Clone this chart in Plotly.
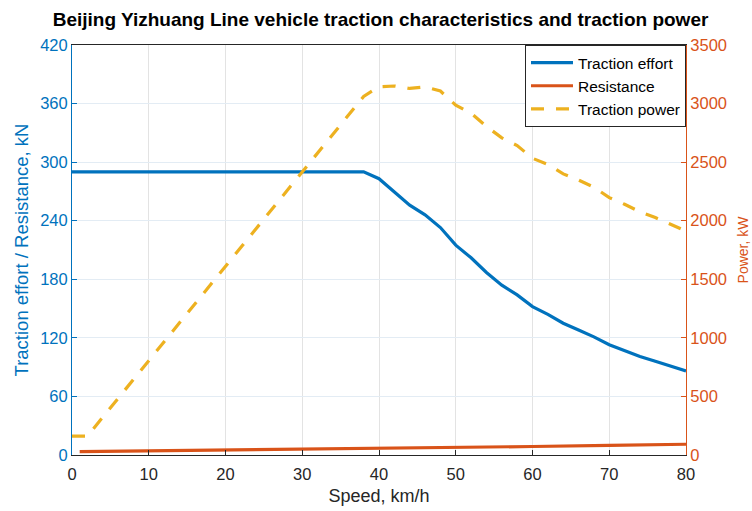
import plotly.graph_objects as go

# Speed grid (km/h) for traction effort and power
speed = list(range(0, 82, 2))

# Traction effort, kN
traction_effort = [290, 290, 290, 290, 290, 290, 290, 290, 290, 290,
                   290, 290, 290, 290, 290, 290, 290, 290, 290, 290,
                   283, 270, 256, 246, 233, 215, 202, 187, 174, 164,
                   152, 144, 135, 128, 121, 113, 107, 101, 96, 91, 86]

# Traction power, kW
traction_power = [161, 161, 322, 483, 644, 806, 967, 1128, 1289, 1450,
                  1611, 1772, 1933, 2094, 2256, 2417, 2578, 2739, 2900, 3061,
                  3144, 3150, 3129, 3143, 3107, 2986, 2918, 2805, 2707, 2642,
                  2533, 2480, 2400, 2347, 2286, 2197, 2140, 2076, 2027, 1972, 1911]

# Running resistance, kN
res_speed = [1, 10, 20, 30, 40, 50, 60, 70, 80]
resistance = [3.4, 4.1, 4.9, 5.8, 6.8, 7.7, 8.7, 9.8, 11.0]

left_ticks = [0, 60, 120, 180, 240, 300, 360, 420]
right_ticks = [0, 500, 1000, 1500, 2000, 2500, 3000, 3500]
x_ticks = [0, 10, 20, 30, 40, 50, 60, 70, 80]

BLUE = "#0072BD"
ORANGE = "#D95319"
YELLOW = "#EDB120"
AXIS = "#262626"
FONT = "Liberation Sans, Arial, sans-serif"

fig = go.Figure()
fig.add_trace(go.Scatter(x=speed, y=traction_effort, mode="lines",
                         name="Traction effort",
                         line=dict(color=BLUE, width=3.2)))
fig.add_trace(go.Scatter(x=res_speed, y=resistance, mode="lines",
                         name="Resistance",
                         line=dict(color=ORANGE, width=3.2)))
fig.add_trace(go.Scatter(x=speed, y=traction_power, mode="lines",
                         name="Traction power", yaxis="y2",
                         line=dict(color=YELLOW, width=3.2, dash="13px,12px")))

fig.update_layout(
    width=752, height=511,
    margin=dict(l=72, r=66, t=45, b=56),
    paper_bgcolor="white", plot_bgcolor="white",
    font=dict(family=FONT, size=16, color=AXIS),
    title=dict(text="<b>Beijing Yizhuang Line vehicle traction characteristics and traction power</b>",
               x=0.506, xanchor="center", y=0.962, yanchor="middle",
               font=dict(size=19, color="#000000")),
    showlegend=True,
    legend=dict(x=1, y=1, xanchor="right", yanchor="top",
                bgcolor="white", bordercolor=AXIS, borderwidth=1,
                font=dict(size=15.5, color="#000000"),
                tracegroupgap=0, itemwidth=42),
    xaxis=dict(range=[0, 80], tickvals=x_ticks, ticks="inside", ticklen=5,
               tickcolor=AXIS, showline=True, linecolor=AXIS, linewidth=1,
               mirror=True, showgrid=True, gridcolor="#E3E3E3", zeroline=False,
               ticklabelstandoff=4, automargin=False,
               title=dict(text="Speed, km/h", font=dict(size=18, color=AXIS), standoff=7),
               tickfont=dict(size=16.5, color=AXIS)),
    yaxis=dict(range=[0, 420], tickvals=left_ticks, ticks="inside", ticklen=5,
               tickcolor=BLUE, showline=True, linecolor=BLUE, linewidth=1,
               showgrid=True, gridcolor="#E3ECF4", zeroline=False,
               automargin=False,
               title=dict(text="Traction effort / Resistance, kN",
                          font=dict(size=18.5, color=BLUE), standoff=6),
               tickfont=dict(size=16.5, color=BLUE)),
    yaxis2=dict(range=[0, 3500], tickvals=right_ticks, ticks="inside", ticklen=5,
                tickcolor=ORANGE, showline=True, linecolor=ORANGE, linewidth=1,
                overlaying="y", side="right", showgrid=False, zeroline=False,
                automargin=False,
                title=dict(text="Power, kW", font=dict(size=14, color=ORANGE), standoff=12),
                tickfont=dict(size=16.5, color=ORANGE)),
)

fig.write_html("out.html")
